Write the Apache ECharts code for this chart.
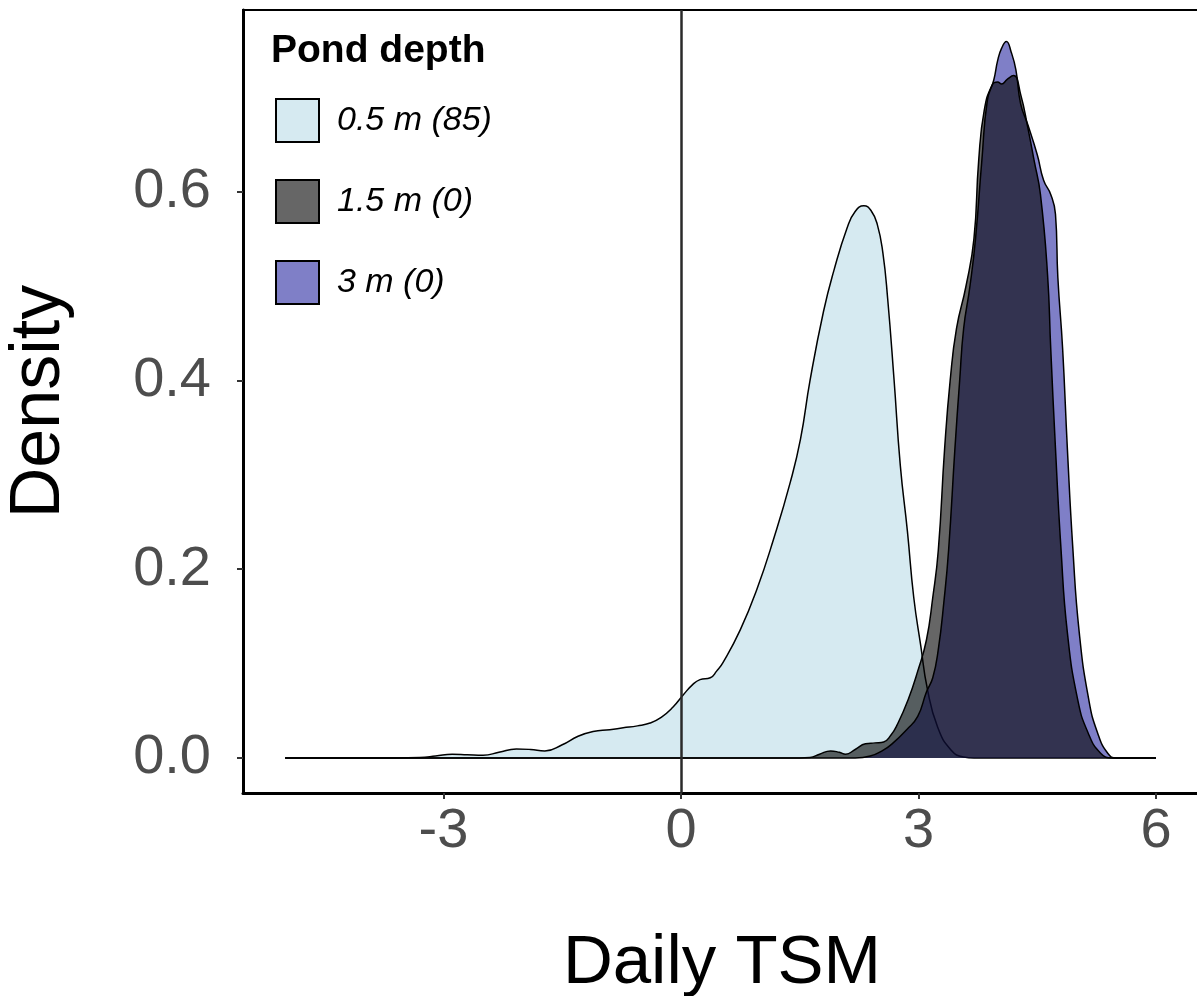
<!DOCTYPE html>
<html>
<head>
<meta charset="utf-8">
<script src="https://cdn.jsdelivr.net/npm/echarts@6/dist/echarts.min.js"></script>
<style>html,body{margin:0;padding:0;background:#fff}#c{width:1197px;height:996px}</style>
</head>
<body>
<div id="c"></div>
<script>
// ---- data ----
var seriesNames = ['0.5 m (85)', '1.5 m (0)', '3 m (0)'];
var xTicks = [-3, 0, 3, 6];
var yTicks = [0, 0.2, 0.4, 0.6];
var d05 = [[-5,0],[-3.6,0],[-3.3,0.0005],[-3.1,0.002],[-2.89,0.004],[-2.7,0.0035],[-2.5,0.003],[-2.3,0.006],[-2.08,0.0096],[-1.9,0.009],[-1.72,0.0074],[-1.5,0.014],[-1.3,0.023],[-1.11,0.028],[-0.9,0.030],[-0.73,0.032],[-0.55,0.034],[-0.39,0.037],[-0.25,0.043],[-0.1,0.054],[0.03,0.067],[0.15,0.078],[0.24,0.083],[0.37,0.085],[0.45,0.092],[0.53,0.101],[0.75,0.136],[0.96,0.179],[1.17,0.232],[1.38,0.292],[1.51,0.338],[1.63,0.40],[1.80,0.473],[1.93,0.516],[2.10,0.562],[2.2,0.579],[2.31,0.585],[2.4,0.580],[2.48,0.565],[2.55,0.535],[2.61,0.487],[2.69,0.402],[2.77,0.31],[2.86,0.24],[2.94,0.17],[3.03,0.118],[3.11,0.074],[3.24,0.033],[3.41,0.0085],[3.57,0.001],[3.7,0],[6,0]];
var d15 = [[-5,0],[1.5,0],[1.63,0.0005],[1.75,0.004],[1.89,0.0075],[2.0,0.006],[2.08,0.004],[2.2,0.009],[2.33,0.015],[2.45,0.016],[2.56,0.017],[2.65,0.024],[2.73,0.035],[2.87,0.062],[2.99,0.092],[3.10,0.125],[3.18,0.170],[3.25,0.22],[3.33,0.328],[3.40,0.40],[3.48,0.455],[3.60,0.50],[3.70,0.55],[3.76,0.633],[3.83,0.686],[3.93,0.713],[4.0,0.716],[4.05,0.714],[4.12,0.719],[4.2,0.723],[4.29,0.703],[4.38,0.668],[4.46,0.633],[4.54,0.597],[4.63,0.512],[4.67,0.434],[4.73,0.328],[4.8,0.221],[4.88,0.133],[5.01,0.062],[5.14,0.027],[5.3,0.005],[5.45,0],[6,0]];
var d3 = [[-5,0],[2.2,0],[2.39,0.002],[2.55,0.008],[2.68,0.016],[2.85,0.03],[2.99,0.044],[3.1,0.07],[3.18,0.085],[3.25,0.115],[3.32,0.165],[3.38,0.22],[3.46,0.328],[3.52,0.40],[3.57,0.455],[3.65,0.50],[3.72,0.55],[3.80,0.633],[3.87,0.697],[3.95,0.718],[4.0,0.739],[4.05,0.752],[4.11,0.759],[4.17,0.748],[4.23,0.729],[4.29,0.693],[4.38,0.671],[4.5,0.639],[4.58,0.612],[4.67,0.597],[4.73,0.576],[4.76,0.509],[4.82,0.434],[4.88,0.328],[4.95,0.221],[5.03,0.133],[5.15,0.062],[5.26,0.027],[5.39,0.005],[5.5,0],[6,0]];
var refX = 0;

// ---- chart ----
var FONT = 'Liberation Sans, Arial, Helvetica, sans-serif';
var chart = echarts.init(document.getElementById('c'), null, {renderer: 'canvas'});
function dens(name, data, fill, z) {
  return {
    name: name, type: 'line', data: data, smooth: 0.5,
    showSymbol: false, symbol: 'none', silent: true, z: z,
    lineStyle: {color: '#000', width: 1.5},
    itemStyle: {color: fill},
    areaStyle: {color: fill, opacity: 1, origin: 0}
  };
}
var option = {
  animation: false,
  backgroundColor: '#fff',
  title: {
    text: 'Pond depth', left: 271, top: 32, padding: 0,
    textStyle: {fontFamily: FONT, fontSize: 39, fontWeight: 'bold', color: '#000'}
  },
  legend: {
    orient: 'vertical', left: 275, top: 98, padding: 0,
    itemWidth: 43, itemHeight: 43, itemGap: 36, icon: 'rect', selectedMode: false,
    textStyle: {fontFamily: FONT, fontSize: 34, fontStyle: 'italic', color: '#000', padding: [0, 0, 0, 13]},
    data: [
      {name: seriesNames[0], itemStyle: {color: '#D6EAF1', borderColor: '#000', borderWidth: 2}},
      {name: seriesNames[1], itemStyle: {color: '#666666', borderColor: '#000', borderWidth: 2}},
      {name: seriesNames[2], itemStyle: {color: '#7F7FC7', borderColor: '#000', borderWidth: 2}}
    ]
  },
  grid: {left: 243, right: -4, top: 10, bottom: 996 - 793, containLabel: false, outerBoundsMode: 'none',
    show: true, borderColor: '#000', borderWidth: 2, backgroundColor: 'transparent'},
  xAxis: {
    type: 'value', min: -5.532, max: 6.568,
    name: 'Daily TSM', nameLocation: 'middle', nameGap: 136,
    nameTextStyle: {fontFamily: FONT, fontSize: 69, color: '#000'},
    axisLine: {show: true, onZero: false, lineStyle: {color: '#000', width: 3}},
    axisTick: {show: true, customValues: xTicks, length: 6, lineStyle: {color: '#333', width: 2}},
    axisLabel: {customValues: xTicks, fontFamily: FONT, fontSize: 56, color: '#4D4D4D', margin: 11,
      formatter: function (v) { return String(v); }},
    splitLine: {show: false}
  },
  yAxis: {
    type: 'value', min: -0.0371, max: 0.7924,
    name: 'Density', nameLocation: 'middle', nameGap: 168,
    nameTextStyle: {fontFamily: FONT, fontSize: 70, color: '#000'},
    axisLine: {show: true, onZero: false, lineStyle: {color: '#000', width: 3}},
    axisTick: {show: true, customValues: yTicks, length: 6, lineStyle: {color: '#333', width: 2}},
    axisLabel: {customValues: yTicks, fontFamily: FONT, fontSize: 56, color: '#4D4D4D', margin: 32,
      formatter: function (v) { return v.toFixed(1); }},
    splitLine: {show: false}
  },
  series: [
    dens(seriesNames[0], d05, '#D6EAF1', 2),
    dens(seriesNames[2], d3, 'rgba(42,42,162,0.6)', 3),
    dens(seriesNames[1], d15, 'rgba(0,0,0,0.6)', 4),
    {
      name: 'ref', type: 'line', data: [], silent: true, z: 6,
      markLine: {silent: true, symbol: 'none', label: {show: false}, animation: false,
        lineStyle: {color: '#2a2a2a', width: 2.5, type: 'solid'},
        data: [{xAxis: refX}]}
    }
  ]
};
chart.setOption(option);
</script>
</body>
</html>
